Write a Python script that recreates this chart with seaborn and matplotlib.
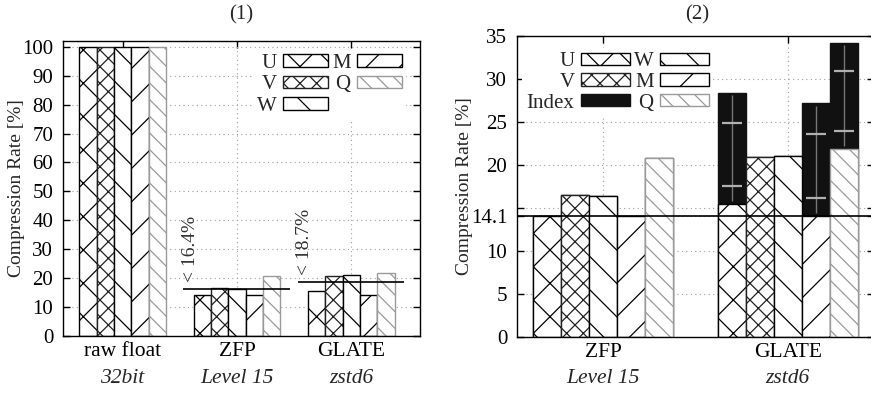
import numpy as np
import pandas as pd
import seaborn as sns
import matplotlib.pyplot as plt
import matplotlib.patches as mpatches

sns.set_theme(style="ticks")
plt.rcParams['font.family'] = ['Liberation Serif', 'DejaVu Serif']
plt.rcParams['hatch.linewidth'] = 0.9

# data
variables = ['U', 'V', 'W', 'M', 'Q']
methods1 = ['raw float', 'ZFP', 'GLATE']
methods2 = ['ZFP', 'GLATE']
subtitles = {'raw float': '32bit', 'ZFP': 'Level 15', 'GLATE': 'zstd6'}
raw_rate = [100, 100, 100, 100, 100]
zfp_rate = [14.1, 16.5, 16.4, 14.1, 20.8]
glate_rate = [15.5, 20.9, 21.1, 14.1, 21.9]
glate_total = [28.4, 20.9, 21.1, 27.2, 34.2]   # data + index
index_lo = [17.5, np.nan, np.nan, 16.2, 23.9]
index_hi = [24.9, np.nan, np.nan, 23.6, 30.9]
avg_rate = {'ZFP': 16.4, 'GLATE': 18.7}
zfp_min = 14.1

hatches = {'U': 'x', 'V': 'xx', 'W': '\\', 'M': '/', 'Q': '\\\\'}
edges = {'U': 'black', 'V': '#222222', 'W': 'black', 'M': 'black', 'Q': '#9a9a9a'}

df1 = pd.DataFrame({'method': np.repeat(methods1, 5), 'var': variables * 3,
                    'rate': raw_rate + zfp_rate + glate_rate})
df2 = pd.DataFrame({'method': np.repeat(methods2, 5), 'var': variables * 2,
                    'rate': zfp_rate + glate_rate,
                    'total': zfp_rate + glate_total})

fig = plt.figure(figsize=(8.71, 3.93), dpi=100)
ax1 = fig.add_axes([0.0723, 0.145, 0.410, 0.7506])
ax2 = fig.add_axes([0.5936, 0.1425, 0.410, 0.766])


def base_bars(ax, df, order):
    sns.barplot(data=df, x='method', y='rate', hue='var', order=order,
                hue_order=variables, width=0.76, palette=['white'] * 5,
                saturation=1, errorbar=None, legend=False, ax=ax,
                linewidth=1.0, edgecolor='black')
    for var, cont in zip(variables, ax.containers[-5:]):
        for p in cont:
            p.set_hatch(hatches[var])
            p.set_edgecolor(edges[var])


def style_axes(ax, order):
    ax.set_axisbelow(True)
    ax.grid(True, linestyle=(0, (1, 3)), color='#a0a0a0', linewidth=0.8)
    ax.tick_params(axis='both', direction='in', length=5, width=1,
                   top=True, right=True, colors='black', labelsize=15)
    ax.tick_params(axis='y', pad=7)
    ax.tick_params(axis='x', pad=4, labelsize=15.5)
    for s in ax.spines.values():
        s.set_color('black')
        s.set_linewidth(1.0)
    ax.set_xlabel('')
    ax.set_ylabel('Compression Rate [%]', fontsize=14)
    for i, m in enumerate(order):
        ax.annotate(subtitles[m], xy=(i, 0), xycoords=('data', 'axes fraction'),
                    xytext=(0, -42), textcoords='offset pixels',
                    ha='center', va='center', fontsize=15.5, style='italic')


def legend_handles(names):
    hs = []
    for n in names:
        if n == 'Index':
            hs.append(mpatches.Patch(facecolor='#111111', edgecolor='#111111', label=n))
        else:
            hs.append(mpatches.Patch(facecolor='white', edgecolor=edges[n],
                                     hatch=hatches[n], label=n))
    return hs


# panel (1)
base_bars(ax1, df1, methods1)
style_axes(ax1, methods1)
ax1.set_ylim(0, 102)
ax1.set_yticks(range(0, 101, 10))
ax1.yaxis.set_label_coords(-0.106, 0.5)
for i, m in enumerate(methods1):
    if m in avg_rate:
        v = avg_rate[m]
        ax1.hlines(v, i - 0.47, i + 0.46, color='black', linewidth=1.2, zorder=3)
        ax1.text(i - 0.41, v + 2.3, f'< {v}%', rotation=90, ha='center',
                 va='bottom', fontsize=14, color='#333333')
leg1 = ax1.legend(handles=legend_handles(variables), ncol=2, markerfirst=False,
                  loc='upper right', bbox_to_anchor=(0.96, 0.97),
                  fontsize=15, handlelength=2.15, handleheight=0.55,
                  handletextpad=0.3, columnspacing=0.2, labelspacing=0.11,
                  borderpad=0.2, borderaxespad=0, frameon=True, fancybox=False)
leg1.get_frame().set_edgecolor('none')
leg1.get_frame().set_alpha(1)

# panel (2)
sns.barplot(data=df2, x='method', y='total', hue='var', order=methods2,
            hue_order=variables, width=0.76, palette=['#111111'] * 5,
            saturation=1, errorbar=None, legend=False, ax=ax2,
            linewidth=1.0, edgecolor='#111111')
base_bars(ax2, df2, methods2)
style_axes(ax2, methods2)
ax2.set_ylim(0, 35)
ax2.set_yticks([0, 5, 10, zfp_min, 15, 20, 25, 30, 35])
ax2.set_yticklabels(['0', '5', '10', str(zfp_min), '', '20', '25', '30', '35'])
ax2.yaxis.set_label_coords(-0.123, 0.5)
ax2.axhline(zfp_min, color='black', linewidth=1.2, zorder=3)
for k, cont in enumerate(ax2.containers[:5]):
    if np.isnan(index_lo[k]):
        continue
    p = cont[1]
    xc = p.get_x() + p.get_width() / 2
    w = p.get_width()
    ax2.vlines(xc, glate_rate[k] + 0.3, glate_total[k] - 0.3, color='#777777',
               linewidth=1, zorder=3)
    ax2.hlines([index_lo[k], index_hi[k]], xc - 0.36 * w, xc + 0.36 * w,
               color='#b0b0b0', linewidth=1.6, zorder=3)
leg2 = ax2.legend(handles=legend_handles(['U', 'V', 'Index', 'W', 'M', 'Q']),
                  ncol=2, markerfirst=False, loc='upper left',
                  bbox_to_anchor=(0.015, 0.96), fontsize=15, handlelength=2.35,
                  handleheight=0.55, handletextpad=0.3, columnspacing=0.2,
                  labelspacing=0.08, borderpad=0.2, borderaxespad=0,
                  frameon=True, fancybox=False)
leg2.get_frame().set_edgecolor('none')
leg2.get_frame().set_alpha(1)

fig.text(241.5 / 871, 1 - 15 / 393, '(1)', ha='center', va='center', fontsize=15)
fig.text(697 / 871, 1 - 15 / 393, '(2)', ha='center', va='center', fontsize=15)

fig.savefig('out.png', dpi=100)
